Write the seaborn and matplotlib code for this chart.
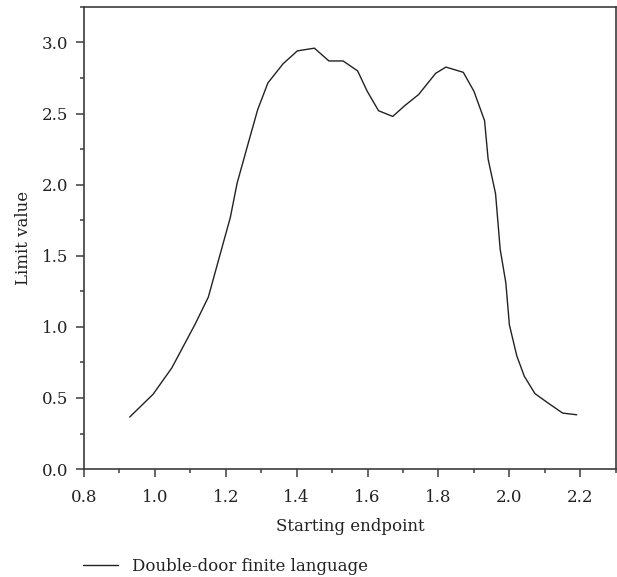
import matplotlib
matplotlib.use("Agg")
import matplotlib.pyplot as plt
from matplotlib.ticker import MultipleLocator
import seaborn as sns
import pandas as pd

# values
starting_endpoint = [0.929, 0.995, 1.048, 1.114, 1.151, 1.188, 1.213, 1.232, 1.261, 1.290,
                     1.319, 1.362, 1.402, 1.450, 1.491, 1.531, 1.572, 1.599, 1.631, 1.671,
                     1.705, 1.744, 1.792, 1.821, 1.870, 1.900, 1.930, 1.940, 1.961, 1.974,
                     1.990, 2.000, 2.021, 2.042, 2.072, 2.106, 2.150, 2.190]
limit_value = [0.366, 0.526, 0.712, 1.021, 1.210, 1.545, 1.770, 2.010, 2.270, 2.527,
               2.716, 2.851, 2.941, 2.960, 2.870, 2.870, 2.800, 2.657, 2.520, 2.480,
               2.556, 2.634, 2.783, 2.827, 2.790, 2.657, 2.450, 2.180, 1.936, 1.546,
               1.309, 1.014, 0.795, 0.653, 0.531, 0.470, 0.394, 0.382]
series_name = "Double-door finite language"

df = pd.DataFrame({"x": starting_endpoint, "y": limit_value})

sns.set_style("ticks")
plt.rcParams["font.family"] = ["DejaVu Serif", "Liberation Serif"]

fig = plt.figure(figsize=(6.17, 5.77), dpi=100)
ax = fig.add_axes([0.136, 0.187, 0.862, 0.801])

sns.lineplot(data=df, x="x", y="y", sort=False, color="#222222", linewidth=1.0,
             label=series_name, ax=ax, legend=False)

ax.set_xlim(0.8, 2.3)
ax.set_ylim(0.0, 3.25)
ax.xaxis.set_major_locator(MultipleLocator(0.2))
ax.xaxis.set_minor_locator(MultipleLocator(0.1))
ax.yaxis.set_major_locator(MultipleLocator(0.5))
ax.yaxis.set_minor_locator(MultipleLocator(0.25))
ax.xaxis.set_major_formatter(plt.FormatStrFormatter("%.1f"))
ax.yaxis.set_major_formatter(plt.FormatStrFormatter("%.1f"))

for side in ["left", "right", "top", "bottom"]:
    ax.spines[side].set_visible(True)
    ax.spines[side].set_color("#3c3c3c")
    ax.spines[side].set_linewidth(1.2)

ax.tick_params(which="major", direction="out", length=6, width=1.1, color="#3c3c3c",
               labelsize=12, labelcolor="#222222", pad=5)
ax.tick_params(which="minor", direction="out", length=3, width=1.1, color="#3c3c3c")
ax.tick_params(axis="x", which="major", pad=8)
ax.tick_params(top=False, right=False)

ax.set_xlabel("Starting endpoint", fontsize=12, color="#222222", labelpad=9)
ax.set_ylabel("Limit value", fontsize=12, color="#222222", labelpad=7)

handles, labels = ax.get_legend_handles_labels()
fig.legend(handles, labels, loc="center left", bbox_to_anchor=(0.1345, 0.019),
           frameon=False, fontsize=12, handlelength=2.1, handletextpad=0.85,
           borderpad=0, borderaxespad=0, labelcolor="#222222")

fig.savefig("out.png", dpi=100)
